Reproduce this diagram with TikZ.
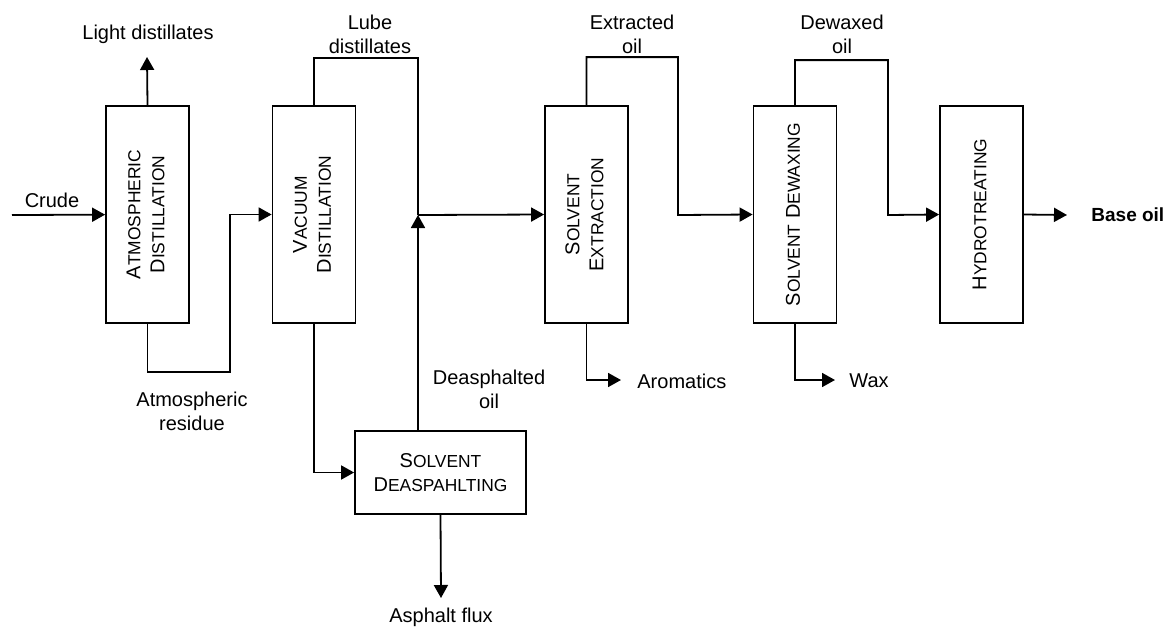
\documentclass[tikz,border=0pt]{standalone}
\usepackage{fontspec}
\setmainfont{Liberation Sans}
\usetikzlibrary{arrows.meta}
\newcommand\smc[2]{#1{\fontsize{8.7}{9}\selectfont#2}}
\newcommand\vtext[1]{\rotatebox{90}{\begin{tabular}{@{}c@{}}#1\end{tabular}}}
\tikzset{
  proc/.style={draw, line width=0.9pt, inner sep=0pt, align=center},
  tall/.style={proc, minimum width=41.5pt, minimum height=108.5pt},
  lbl/.style={align=center, inner sep=0pt},
  flow/.style={line width=0.9pt, -{Triangle[length=6.5pt,width=7pt]}},
  pipe/.style={line width=0.9pt}
}
\begin{document}
\begin{tikzpicture}[x=0.5pt, y=-0.5pt, font=\fontsize{10}{12}\selectfont]
    \useasboundingbox (0,0) rectangle (1168,627);

    % Process units
    \node[tall] (atm) at (147.5,214.5) {\vtext{\smc{A}{TMOSPHERIC}\\\smc{D}{ISTILLATION}}};
    \node[tall] (vac) at (314,214.5) {\vtext{\smc{V}{ACUUM}\\\smc{D}{ISTILLATION}}};
    \node[tall] (ext) at (586.5,214.5) {\vtext{\smc{S}{OLVENT}\\\smc{E}{XTRACTION}}};
    \node[tall] (dew) at (795,214.5) {\vtext{\smc{S}{OLVENT} \smc{D}{EWAXING}}};
    \node[tall] (hyd) at (981.5,214.5) {\vtext{\smc{H}{YDROTREATING}}};
    \node[proc, minimum width=85.5pt, minimum height=41.5pt] (dea) at (440.5,472.5)
        {\smc{S}{OLVENT}\\\smc{D}{EASPAHLTING}};

    % Free ends and joints
    \coordinate (crude) at (12,215);
    \coordinate (light) at (147,57);
    \coordinate (mix) at (418,215);
    \coordinate (asph) at (441,598);
    \coordinate (base) at (1067,215);
    \coordinate (arom) at (621,380);
    \coordinate (wax) at (835,380);

    % Streams
    \draw[flow] (crude) -- (atm);
    \draw[flow] (atm.north) -- (light);
    \draw[flow] (atm.south) |- (230,372) |- (vac.west);
    \draw[pipe] (vac.north) -- ++(0,-47) -| (mix);
    \draw[flow] (vac.south) |- (dea.west);
    \draw[flow] (mix |- dea.north) -- (mix);
    \draw[flow] (dea.south) -- (asph);
    \draw[flow] (mix) -- (ext.west);
    \draw[flow] (ext.north) -- ++(0,-48) -| (678,215) -- (dew.west);
    \draw[flow] (ext.south) |- (arom);
    \draw[flow] (dew.north) -- ++(0,-45) -| (888,215) -- (hyd.west);
    \draw[flow] (dew.south) |- (wax);
    \draw[flow] (hyd.east) -- (base);

    % Labels
    \node[lbl] (crudelbl) at (52,200) {Crude};
    \node[lbl] (lightlbl) at (148,34) {Light distillates};
    \node[lbl] (lubelbl) at (370,34) {Lube\\distillates};
    \node[lbl] (reslbl) at (192,411) {Atmospheric\\residue};
    \node[lbl] (daolbl) at (489,389) {Deasphalted\\oil};
    \node[lbl] (asphlbl) at (441,617) {Asphalt flux};
    \node[lbl] (extlbl) at (632,34) {Extracted\\oil};
    \node[lbl] (dewlbl) at (842,34) {Dewaxed\\oil};
    \node[lbl, anchor=west] (aromlbl) at (637,381) {Aromatics};
    \node[lbl, anchor=west] (waxlbl) at (849,381) {Wax};
    \node[lbl, anchor=west, font=\fontsize{9.5}{12}\selectfont\bfseries] (baselbl) at (1091,215) {Base oil};
\end{tikzpicture}
\end{document}
